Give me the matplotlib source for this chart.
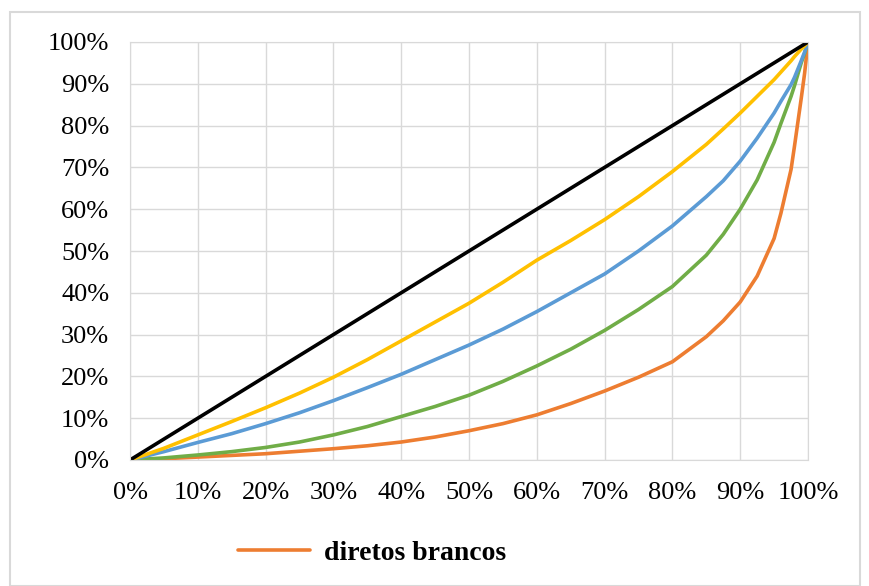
import matplotlib.pyplot as plt
from matplotlib.patches import Rectangle
from matplotlib.ticker import PercentFormatter

# Data (cumulative %)
pop = [0, 5, 10, 15, 20, 25, 30, 35, 40, 45, 50, 55, 60, 65, 70, 75, 80, 85, 87.5,
       90, 92.5, 95, 96, 97.5, 98, 99, 99.5, 100]
igualdade = list(pop)
amarela = [0, 2.8, 6, 9.2, 12.5, 16, 19.8, 24, 28.5, 33, 37.5, 42.5, 47.8, 52.5, 57.5, 63, 69,
           75.5, 79.2, 83, 87, 91, 92.8, 95.5, 96.5, 98.3, 99.1, 100]
azul = [0, 2, 4.2, 6.3, 8.7, 11.3, 14.2, 17.3, 20.5, 24, 27.5, 31.3, 35.5, 40, 44.5, 50, 56,
        63, 66.8, 71.5, 77, 83, 85.8, 89.8, 91.5, 95.5, 97.6, 100]
verde = [0, 0.5, 1.2, 2, 3, 4.3, 6, 8, 10.4, 12.8, 15.5, 18.8, 22.5, 26.5, 31, 36, 41.5,
         49, 54, 60, 67, 76, 80.5, 87, 89.5, 95, 97.3, 100]
diretos_brancos = [0, 0.3, 0.7, 1.1, 1.5, 2.1, 2.7, 3.4, 4.3, 5.5, 7, 8.7, 10.8, 13.5, 16.5,
                   19.8, 23.5, 29.5, 33.3, 37.8, 44, 53, 59, 69.5, 75, 86.5, 92.5, 100]

plt.rcParams['font.family'] = ['Liberation Serif', 'DejaVu Serif']

fig = plt.figure(figsize=(8.7, 5.86), dpi=100)
ax = fig.add_axes([130 / 870, 1 - 460 / 586, 678 / 870, 418 / 586])

# outer chart frame
fig.patches.append(Rectangle((10 / 870, 0), 850 / 870, 1 - 12 / 586, transform=fig.transFigure,
                             fill=False, edgecolor='#d9d9d9', linewidth=1.5))

lw = 2.6
kw = dict(lw=lw, solid_joinstyle='round', solid_capstyle='round')
ax.plot(pop, diretos_brancos, color='#ED7D31', label='diretos brancos', **kw)
ax.plot(pop, verde, color='#70AD47', **kw)
ax.plot(pop, azul, color='#5B9BD5', **kw)
ax.plot(pop, amarela, color='#FFC000', **kw)
ax.plot(pop, igualdade, color='black', **kw)

ax.set_xlim(0, 100)
ax.set_ylim(0, 100)
ax.set_xticks(range(0, 101, 10))
ax.set_yticks(range(0, 101, 10))
ax.xaxis.set_major_formatter(PercentFormatter(decimals=0))
ax.yaxis.set_major_formatter(PercentFormatter(decimals=0))
ax.tick_params(length=0, labelsize=19)
ax.tick_params(axis='x', pad=16)
ax.tick_params(axis='y', pad=15)
ax.grid(True, color='#d9d9d9', lw=1)
ax.set_axisbelow(True)
for s in ax.spines.values():
    s.set_color('#d9d9d9')

leg = fig.legend(loc='center', bbox_to_anchor=(372 / 870, 1 - 553 / 586), frameon=False,
                 prop={'weight': 'bold', 'size': 20}, handlelength=2.6, handletextpad=0.5)

fig.savefig('out.png', dpi=100)
